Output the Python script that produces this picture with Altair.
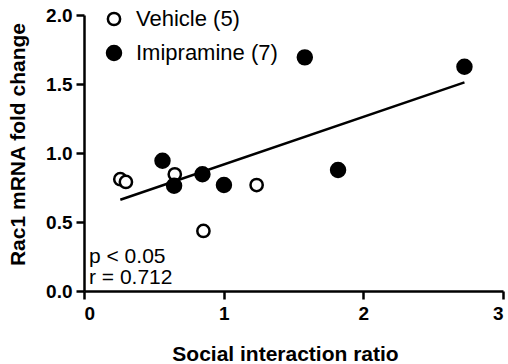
import altair as alt
import pandas as pd

# Data
groups = ["Vehicle (5)", "Imipramine (7)"]
vehicle_x = [0.26, 0.30, 0.65, 0.855, 1.236]
vehicle_y = [0.81, 0.79, 0.846, 0.435, 0.768]
imip_x = [0.562, 0.645, 0.848, 1.002, 1.581, 1.819, 2.724]
imip_y = [0.944, 0.763, 0.846, 0.768, 1.693, 0.877, 1.625]
x_ticks = [0, 1, 2, 3]
y_ticks = [0.0, 0.5, 1.0, 1.5, 2.0]
stats_lines = ["p < 0.05", "r = 0.712"]

df = pd.DataFrame({
    "x": vehicle_x + imip_x,
    "y": vehicle_y + imip_y,
    "group": [groups[0]] * len(vehicle_x) + [groups[1]] * len(imip_x),
})
stats_df = pd.DataFrame({"t": ["\n".join(stats_lines)]})

FONT = "Liberation Sans"

xscale = alt.Scale(domain=[0, 3], nice=False, zero=True)
yscale = alt.Scale(domain=[0, 2], nice=False, zero=True)

xaxis = alt.Axis(values=x_ticks, format="d", title="Social interaction ratio",
                 grid=False, domainColor="black", domainWidth=2.5,
                 tickColor="black", tickWidth=2.5, tickSize=8,
                 labelFont=FONT, labelFontSize=19, labelFontWeight="bold",
                 labelColor="black", labelPadding=5,
                 titleFont=FONT, titleFontSize=21, titleFontWeight="bold",
                 titleColor="black", titlePadding=20, titleX=201, titleAlign="center")
yaxis = alt.Axis(values=y_ticks, format=".1f", title="Rac1 mRNA fold change",
                 grid=False, domainColor="black", domainWidth=2.5,
                 tickColor="black", tickWidth=2.5, tickSize=8,
                 labelFont=FONT, labelFontSize=19, labelFontWeight="bold",
                 labelColor="black", labelPadding=4,
                 titleFont=FONT, titleFontSize=21, titleFontWeight="bold",
                 titleColor="black", titlePadding=17, titleY=129, titleAlign="center")

legend = alt.Legend(orient="none", legendX=19, legendY=-7, title=None,
                    labelFont=FONT, labelFontSize=22, labelColor="black",
                    symbolType="circle", symbolStrokeColor="black",
                    symbolStrokeWidth=2.5, labelOffset=11, rowPadding=10)

points = alt.Chart(df).mark_point(filled=True, strokeWidth=2.5, opacity=1).encode(
    x=alt.X("x:Q", scale=xscale, axis=xaxis),
    y=alt.Y("y:Q", scale=yscale, axis=yaxis),
    fill=alt.Fill("group:N", scale=alt.Scale(domain=groups, range=["white", "black"]), legend=legend),
    stroke=alt.Stroke("group:N", scale=alt.Scale(domain=groups, range=["black", "black"]), legend=legend),
    size=alt.Size("group:N", scale=alt.Scale(domain=groups, range=[150, 195]), legend=legend),
)

fit = alt.Chart(df).transform_regression("x", "y").mark_line(color="black", strokeWidth=2.5).encode(
    x=alt.X("x:Q", scale=xscale),
    y=alt.Y("y:Q", scale=yscale),
)

stats = alt.Chart(stats_df).mark_text(
    align="left", baseline="alphabetic", font=FONT, fontSize=21,
    color="black", lineBreak="\n", lineHeight=21,
).encode(x=alt.value(5), y=alt.value(248), text="t:N")

chart = alt.layer(fit, points, stats).properties(
    width=419, height=276,
    autosize=alt.AutoSizeParams(type="none"),
    padding={"left": 84, "top": 15, "right": 5, "bottom": 73},
).configure_view(stroke=None)

chart.save("out.html", embed_options={"renderer": "svg", "actions": False})
